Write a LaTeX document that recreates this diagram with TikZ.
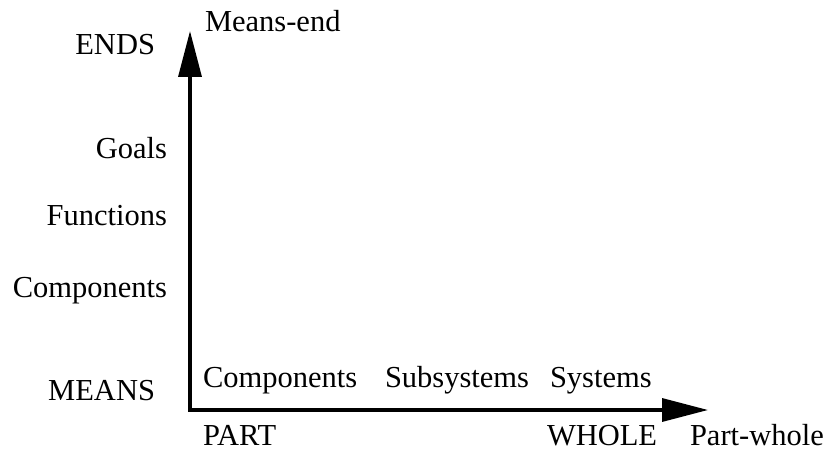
\documentclass[tikz,border=0pt]{standalone}
\usepackage{fontspec}
\setmainfont{Liberation Serif}
\usetikzlibrary{arrows.meta}
\begin{document}
\begin{tikzpicture}[x=1pt,y=1pt,
  lbl/.style={font=\fontsize{30.5}{34}\selectfont, inner sep=0pt, outer sep=0pt},
  lr/.style={lbl, anchor=base east},
  ll/.style={lbl, anchor=base west},
  axis/.style={line width=3.4pt, -{Triangle[length=46pt,width=23pt]}}]
\useasboundingbox (0,0) rectangle (830,453);
% image y -> 453 - y
\coordinate (origin) at (190,43);
\coordinate (ytip) at (190,422);
\coordinate (xtip) at (708,43);
\draw[axis] ([yshift=-1.7pt]origin) -- (ytip);
\draw[axis] ([xshift=-1.7pt]origin) -- (xtip);
% vertical labels
\node[lr] (ends) at (155,398) {ENDS};
\node[lr] (goals) at (167,294) {Goals};
\node[lr] (functions) at (167,227) {Functions};
\node[lr] (vcomp) at (167,156) {Components};
\node[lr] (means) at (155,53) {MEANS};
\node[ll] (meansend) at (205,421) {Means-end};
% horizontal labels
\node[ll] (hcomp) at (203,66) {Components};
\node[ll] (subsys) at (385,66) {Subsystems};
\node[ll] (systems) at (550,66) {Systems};
\node[ll] (part) at (203,8) {PART};
\node[ll] (whole) at (547,8) {WHOLE};
\node[ll] (partwhole) at (690,8) {Part-whole};
\end{tikzpicture}
\end{document}
